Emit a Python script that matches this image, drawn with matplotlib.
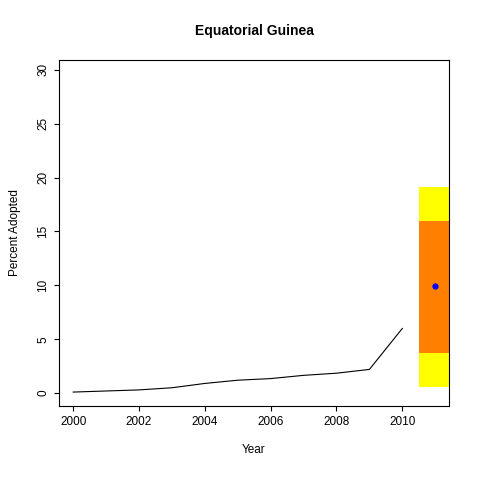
import matplotlib
matplotlib.use('Agg')
import matplotlib.pyplot as plt

plt.rcParams['font.family'] = ['Liberation Sans', 'DejaVu Sans']

years = [2000, 2001, 2002, 2003, 2004, 2005, 2006, 2007, 2008, 2009, 2010]
adopted = [0.1, 0.2, 0.3, 0.5, 0.9, 1.2, 1.35, 1.65, 1.85, 2.2, 6.0]

proj_year = 2011
proj_mid = 9.9
outer = (0.55, 19.1)
inner = (3.7, 16.0)

fig = plt.figure(figsize=(4.8, 4.8), dpi=100)
ax = fig.add_axes([0.123, 0.154, 0.8125, 0.721])

ax.bar(proj_year - 0.04, outer[1] - outer[0], bottom=outer[0], width=0.93,
       color='yellow', align='center')
ax.bar(proj_year - 0.04, inner[1] - inner[0], bottom=inner[0], width=0.93,
       color='#ff7f00', align='center')
ax.plot(years, adopted, color='black', lw=0.8)
ax.plot([proj_year], [proj_mid], 'o', color='blue', ms=3.5)

ax.set_xlim(1999.57, 2011.42)
ax.set_ylim(-1.2, 30.9)
ax.set_xticks(range(2000, 2011, 2))
ax.set_yticks(range(0, 31, 5))
ax.tick_params(axis='y', labelrotation=90, labelsize=8.5)
ax.tick_params(axis='x', labelsize=8.5)
for lbl in ax.get_yticklabels():
    lbl.set_va('center')
ax.set_xlabel('Year', fontsize=8.5, labelpad=12)
ax.set_ylabel('Percent Adopted', fontsize=8.5, labelpad=12)
ax.set_title('Equatorial Guinea', fontsize=10, fontweight='bold', pad=18)

fig.savefig('out.png', dpi=100)
